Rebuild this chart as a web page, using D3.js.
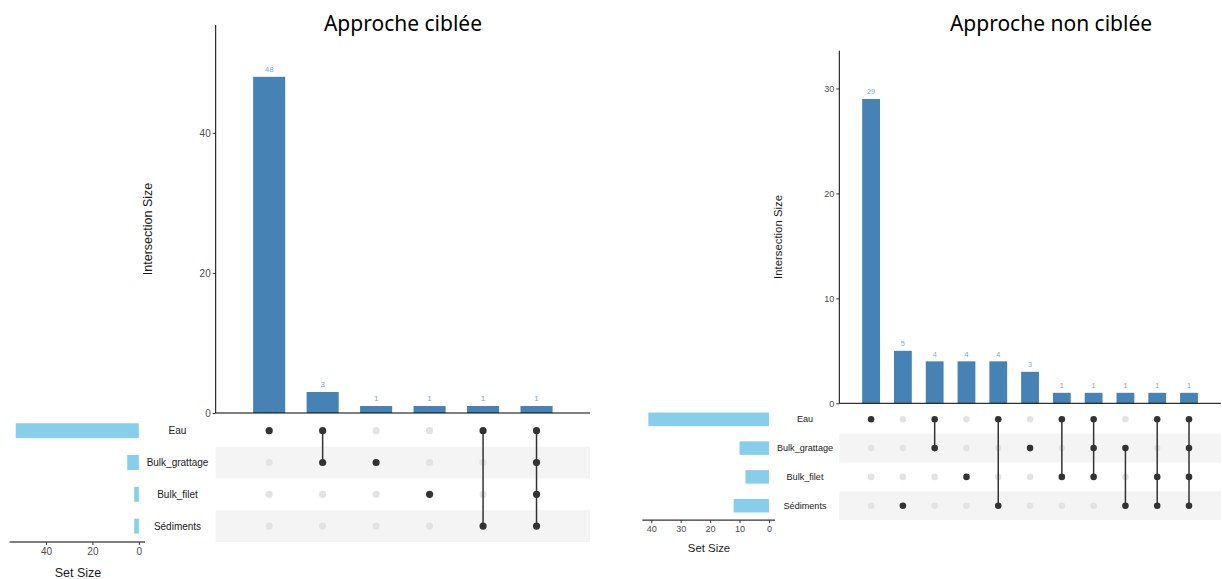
<!DOCTYPE html>
<html>
<head>
<meta charset="utf-8">
<script src="https://cdn.jsdelivr.net/npm/d3@7"></script>
<style>
body{margin:0;background:#fff;}
text{font-family:"Liberation Sans",Arial,sans-serif;}
</style>
</head>
<body>
<svg id="chart" width="1222" height="579"></svg>
<script>
let setNames = ["Eau", "Bulk_grattage", "Bulk_filet", "Sédiments"];

// approche ciblée
let ciblCounts = [48, 3, 1, 1, 1, 1];
let ciblSets = [
    ["Eau"],
    ["Eau", "Bulk_grattage"],
    ["Bulk_grattage"],
    ["Bulk_filet"],
    ["Eau", "Sédiments"],
    ["Eau", "Bulk_grattage", "Bulk_filet", "Sédiments"]
];
let ciblSetSizes = [53, 5, 2, 2];
let ciblYTicks = [0, 20, 40];
let ciblSizeTicks = [0, 20, 40];

// approche non ciblée
let nonCounts = [29, 5, 4, 4, 4, 3, 1, 1, 1, 1, 1];
let nonSets = [
    ["Eau"],
    ["Sédiments"],
    ["Eau", "Bulk_grattage"],
    ["Bulk_filet"],
    ["Eau", "Sédiments"],
    ["Bulk_grattage"],
    ["Eau", "Bulk_filet"],
    ["Eau", "Bulk_grattage", "Bulk_filet"],
    ["Bulk_grattage", "Sédiments"],
    ["Eau", "Bulk_filet", "Sédiments"],
    ["Eau", "Bulk_grattage", "Bulk_filet", "Sédiments"]
];
let nonSetSizes = [41, 10, 8, 12];
let nonYTicks = [0, 10, 20, 30];
let nonSizeTicks = [0, 10, 20, 30, 40];

let svg = d3.select("#chart");

function drawUpset(cfg) {
    let g = svg.append("g");
    let k = cfg.k;
    let cols = cfg.counts.map((d, i) => i);

    let x = d3.scalePoint().domain(cols).range(cfg.barX).padding(1);   // columns of intersections
    let y = d3.scaleLinear().domain([0, cfg.yMax]).range(cfg.barY);
    let rows = d3.scaleBand().domain(setNames).range(cfg.matrixY);
    let sizeScale = d3.scaleLinear().domain(cfg.sizeDomain).range(cfg.sizeX);
    let bw = x.step() * cfg.barFrac;

    // title
    g.append("text").attr("x", cfg.titleX).attr("y", 30.5).attr("text-anchor", "middle")
        .style("font-family", "'Noto Sans','Open Sans',sans-serif").style("font-size", "21px")
        .attr("fill", "#000").text(cfg.title);

    // intersection bars
    g.selectAll(".bar").data(cfg.counts).enter().append("rect")
        .attr("x", (d, i) => x(i) - bw / 2).attr("width", bw)
        .attr("y", d => y(d)).attr("height", d => y(0) - y(d))
        .attr("fill", "#4682B4");
    g.selectAll(".barlab").data(cfg.counts).enter().append("text")
        .attr("x", (d, i) => x(i)).attr("y", d => y(d) - 5 * k)
        .attr("text-anchor", "middle").style("font-size", (8 * k) + "px")
        .attr("fill", "#7ea6d6").text(d => d);

    // y axis
    let yAxis = g.append("g").attr("transform", "translate(" + cfg.barX[0] + ",0)")
        .call(d3.axisLeft(y).tickValues(cfg.yTicks).tickSize(3).tickPadding(2));
    yAxis.select(".domain").attr("d", "M0," + cfg.barY[1] + "V" + y(0)).attr("stroke", "#000");
    yAxis.selectAll(".tick line").attr("stroke", "#333");
    yAxis.selectAll(".tick text").style("font-size", (10 * k) + "px").attr("fill", "#4d4d4d")
        .style("font-family", "'Liberation Sans',Arial,sans-serif");
    g.append("line").attr("x1", cfg.barX[0]).attr("x2", cfg.barX[1])
        .attr("y1", y(0)).attr("y2", y(0)).attr("stroke", "#000");
    g.append("text").attr("transform", "translate(" + cfg.yTitleX + "," + cfg.yTitleY + ") rotate(-90)")
        .attr("text-anchor", "middle").attr("dy", "0.35em").style("font-size", (12.5 * k) + "px")
        .attr("fill", "#1a1a1a").text("Intersection Size");

    // matrix stripes
    g.selectAll(".band").data(setNames.filter((d, i) => i % 2 === 1)).enter().append("rect")
        .attr("x", cfg.barX[0]).attr("width", cfg.barX[1] - cfg.barX[0])
        .attr("y", d => rows(d)).attr("height", rows.bandwidth())
        .attr("fill", "#f4f4f4");

    let rc = d => rows(d) + rows.bandwidth() / 2;

    // dots and connecting lines
    cols.forEach(i => {
        let members = cfg.sets[i];
        g.selectAll(".dot" + i).data(setNames).enter().append("circle")
            .attr("cx", x(i)).attr("cy", d => rc(d)).attr("r", 3.6 * k)
            .attr("fill", d => members.includes(d) ? "#333333" : "#e3e3e3");
        if (members.length > 1) {
            let ys = members.map(rc);
            g.append("line").attr("x1", x(i)).attr("x2", x(i))
                .attr("y1", d3.min(ys)).attr("y2", d3.max(ys))
                .attr("stroke", "#333333").attr("stroke-width", 1.5);
        }
    });

    // set labels
    g.selectAll(".setlab").data(setNames).enter().append("text")
        .attr("x", cfg.labelX).attr("y", d => rc(d)).attr("dy", "0.35em")
        .attr("text-anchor", "middle").style("font-size", (10 * k) + "px")
        .attr("fill", "#1a1a1a").text(d => d);

    // set size bars
    let sh = rows.bandwidth() * 0.47;
    g.selectAll(".setbar").data(cfg.setSizes).enter().append("rect")
        .attr("x", d => sizeScale(d)).attr("width", d => sizeScale(0) - sizeScale(d))
        .attr("y", (d, i) => rc(setNames[i]) - sh / 2).attr("height", sh)
        .attr("fill", "#87CEEB");

    let sAxis = g.append("g").attr("transform", "translate(0," + cfg.matrixY[1] + ")")
        .call(d3.axisBottom(sizeScale).tickValues(cfg.sizeTicks).tickSize(3).tickPadding(3 * k));
    sAxis.select(".domain").attr("d", "M" + cfg.sizeX[0] + ",0H" + cfg.sizeX[1]).attr("stroke", "#000");
    sAxis.selectAll(".tick line").attr("stroke", "#333");
    sAxis.selectAll(".tick text").style("font-size", (10 * k) + "px").attr("fill", "#4d4d4d")
        .style("font-family", "'Liberation Sans',Arial,sans-serif");
    g.append("text").attr("x", cfg.sizeTitleX).attr("y", cfg.matrixY[1] + 30.5 * k).attr("dy", "0.35em")
        .attr("text-anchor", "middle").style("font-size", (12.5 * k) + "px")
        .attr("fill", "#1a1a1a").text("Set Size");
}

drawUpset({
    title: "Approche ciblée", titleX: 403, k: 1,
    counts: ciblCounts, sets: ciblSets, setSizes: ciblSetSizes,
    yTicks: ciblYTicks, sizeTicks: ciblSizeTicks,
    barX: [215.7, 590], barY: [413, 25], yMax: 55.4, barFrac: 0.6,
    matrixY: [414.8, 542], sizeX: [9.6, 145], sizeDomain: [55.65, -2.65],
    labelX: 177.5, yTitleX: 148, yTitleY: 229, sizeTitleX: 78
});

drawUpset({
    title: "Approche non ciblée", titleX: 1051, k: 0.91,
    counts: nonCounts, sets: nonSets, setSizes: nonSetSizes,
    yTicks: nonYTicks, sizeTicks: nonSizeTicks,
    barX: [839.3, 1220.8], barY: [403.3, 50.7], yMax: 33.6, barFrac: 0.56,
    matrixY: [404.9, 520.1], sizeX: [642.3, 775], sizeDomain: [43.05, -2.05],
    labelX: 805, yTitleX: 778, yTitleY: 237, sizeTitleX: 709
});
</script>
</body>
</html>
